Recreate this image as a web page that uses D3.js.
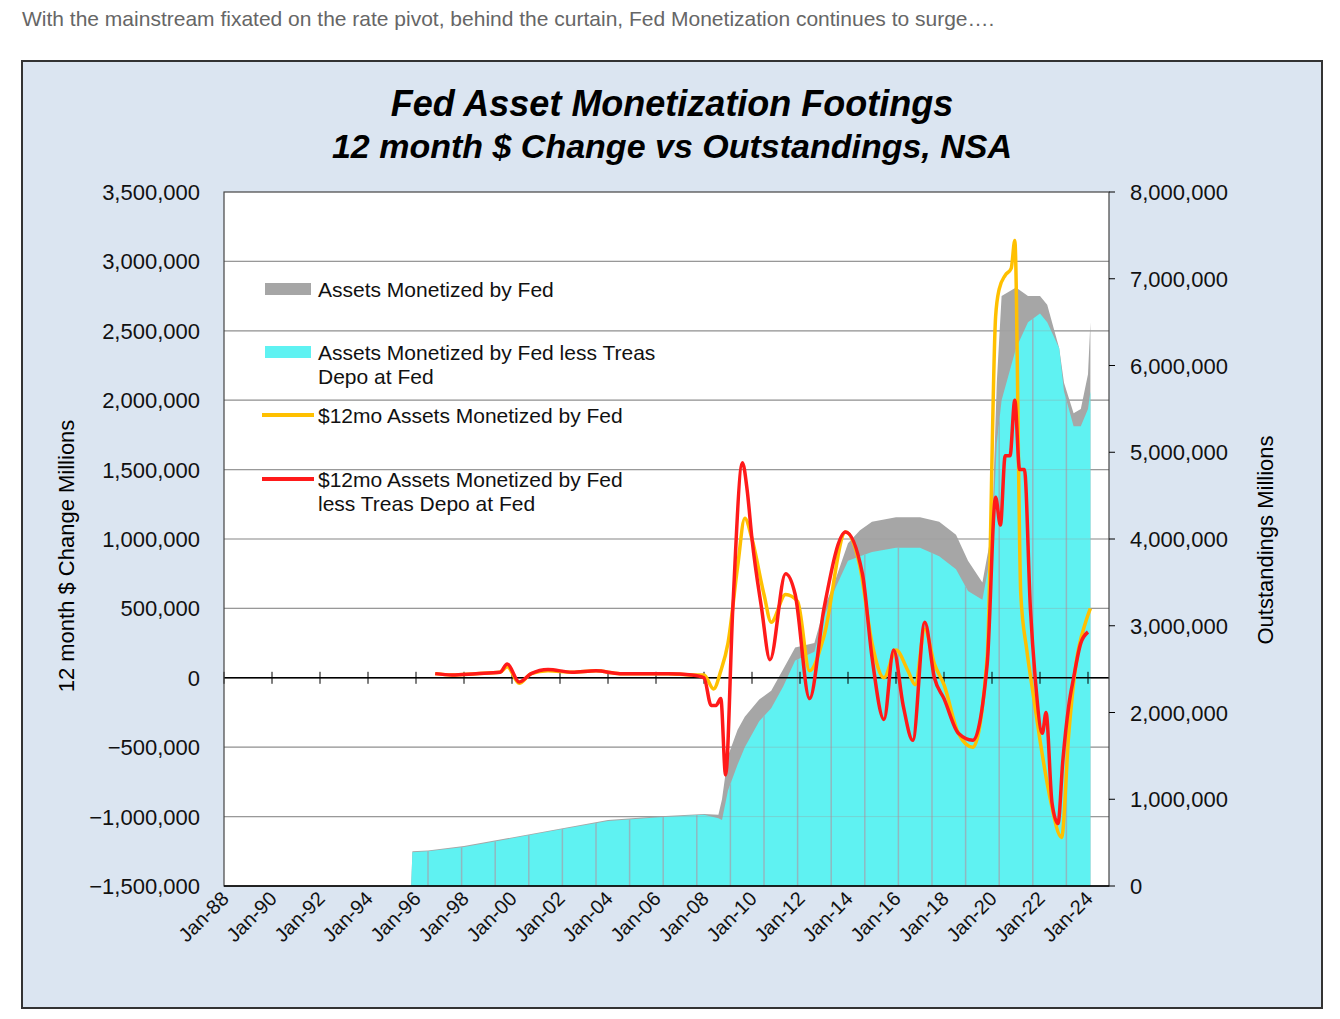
<!DOCTYPE html>
<html><head><meta charset="utf-8">
<script src="https://cdn.jsdelivr.net/npm/d3@7"></script>
<style>body{margin:0;background:#fff;font-family:Arial,"Liberation Sans",sans-serif}</style>
</head><body><svg id="c" width="1340" height="1019"></svg>
<script>
// Outstandings (millions, right axis)
const totalYears = [1995.8,1995.85,1996.5,1998,2000,2002,2004,2006,2008,2008.6,2008.75,2009.0,2009.4,2009.7,2010.3,2010.8,2011.3,2011.8,2012.6,2013,2013.5,2014,2014.5,2015,2016,2017,2017.8,2018.5,2019,2019.6,2020.0,2020.2,2020.4,2021,2021.5,2022,2022.3,2022.8,2023,2023.4,2023.7,2024,2024.1];
const totalVals  = [0,400000,410000,460000,560000,660000,760000,800000,830000,820000,1000000,1500000,1800000,1950000,2150000,2250000,2500000,2750000,2800000,3200000,3550000,3950000,4100000,4200000,4250000,4250000,4200000,4050000,3750000,3500000,4100000,5800000,6800000,6900000,6800000,6800000,6700000,6200000,5800000,5450000,5500000,5900000,6500000];
const lessYears  = [1995.8,1995.85,1996.5,1998,2000,2002,2004,2006,2008,2008.6,2008.75,2009.0,2009.4,2009.7,2010.3,2010.8,2011.3,2011.8,2012.6,2013,2013.5,2014,2014.5,2015,2016,2017,2017.8,2018.5,2019,2019.6,2020.0,2020.2,2020.4,2021,2021.5,2022,2022.3,2022.8,2023,2023.4,2023.7,2024,2024.1];
const lessVals   = [0,390000,400000,450000,550000,650000,750000,790000,820000,780000,760000,1100000,1400000,1600000,1900000,2050000,2300000,2600000,2700000,3100000,3450000,3750000,3800000,3850000,3900000,3900000,3800000,3650000,3400000,3300000,3900000,5100000,5600000,6200000,6500000,6600000,6500000,6200000,5700000,5300000,5300000,5500000,5700000];
// 12 month $ change (millions, left axis)
const yYears = [1996.8,1997.5,1998.5,1999.5,1999.8,2000.3,2000.8,2001.5,2002.5,2003.5,2004.5,2005.5,2006.5,2007.5,2008.0,2008.4,2008.7,2009.0,2009.4,2009.7,2010.0,2010.5,2010.8,2011.4,2011.9,2012.4,2013.0,2013.9,2014.5,2015.0,2015.5,2016.0,2016.5,2016.8,2017.2,2017.6,2018.0,2018.6,2019.2,2019.8,2020.15,2020.3,2020.55,2020.8,2020.95,2021.2,2021.45,2021.7,2022.0,2022.4,2022.9,2023.2,2023.5,2023.9,2024.1];
const yVals  = [30000,20000,30000,40000,80000,-40000,30000,50000,40000,50000,30000,30000,30000,20000,20000,-80000,50000,250000,800000,1150000,1000000,600000,400000,600000,550000,50000,300000,1050000,800000,250000,0,200000,50000,-50000,350000,100000,-50000,-400000,-500000,150000,2600000,2800000,2900000,2950000,3150000,600000,200000,-100000,-450000,-850000,-1150000,-400000,100000,400000,500000];
const rYears = [1996.8,1997.5,1998.5,1999.5,1999.8,2000.3,2000.8,2001.5,2002.5,2003.5,2004.5,2005.5,2006.5,2007.5,2008.0,2008.3,2008.5,2008.7,2008.9,2009.2,2009.6,2009.8,2010.0,2010.4,2010.75,2011.4,2011.8,2012.4,2013.0,2013.9,2014.6,2015.0,2015.5,2015.9,2016.3,2016.7,2017.2,2017.6,2018.0,2018.6,2019.2,2019.8,2020.15,2020.35,2020.55,2020.75,2020.95,2021.15,2021.35,2021.6,2021.8,2022.1,2022.25,2022.5,2022.75,2022.95,2023.2,2023.4,2023.7,2024.0];
const rVals  = [30000,20000,30000,40000,100000,-30000,30000,60000,40000,50000,30000,30000,30000,20000,0,-200000,-200000,-150000,-700000,500000,1550000,1350000,1000000,500000,130000,750000,600000,-150000,500000,1050000,750000,150000,-300000,200000,-200000,-450000,400000,0,-150000,-400000,-450000,100000,1300000,1100000,1600000,1600000,2000000,1500000,1500000,500000,0,-400000,-250000,-900000,-1050000,-600000,-200000,0,250000,330000];
const leftTicks = [-1500000,-1000000,-500000,0,500000,1000000,1500000,2000000,2500000,3000000,3500000];
const rightTicks = [0,1000000,2000000,3000000,4000000,5000000,6000000,7000000,8000000];
const xTickYears = d3.range(1988,2025,2);
const legendNames = ["Assets Monetized by Fed","Assets Monetized by Fed less Treas|Depo at Fed","$12mo Assets Monetized by Fed","$12mo Assets Monetized by Fed|less Treas Depo at Fed"];
const legendColors = ["#a6a6a6","#5ff2f2","#ffc000","#ff1a1a"];

const svg = d3.select("#c");
svg.append("text").attr("x",22).attr("y",26).attr("font-size",21).attr("fill","#666")
  .text("With the mainstream fixated on the rate pivot, behind the curtain, Fed Monetization continues to surge….");
svg.append("rect").attr("x",22).attr("y",61).attr("width",1300).attr("height",947).attr("fill","#dbe5f1").attr("stroke","#333").attr("stroke-width",2);
const L=224,R=1109,T=192,B=886;
svg.append("rect").attr("x",L).attr("y",T).attr("width",R-L).attr("height",B-T).attr("fill","#fff");
const x = d3.scaleLinear().domain([1988,1988+(R-L)/24]).range([L,R]);
const yL = d3.scaleLinear().domain([-1500000,3500000]).range([B,T]);
const yR = d3.scaleLinear().domain([0,8000000]).range([B,T]);
const fmt = d3.format(",");
svg.selectAll(".g").data(leftTicks.slice(1,-1)).join("line").attr("x1",L).attr("x2",R)
  .attr("y1",d=>yL(d)).attr("y2",d=>yL(d)).attr("stroke","#999").attr("stroke-width",1.2);
const area = (ys,vs)=>d3.area().x((d,i)=>x(ys[i])).y0(B).y1((d,i)=>yR(vs[i]))(vs);
svg.append("path").attr("d",area(totalYears,totalVals)).attr("fill","#a6a6a6");
svg.append("clipPath").attr("id","cl").append("path").attr("d",area(lessYears,lessVals));
svg.append("path").attr("d",area(lessYears,lessVals)).attr("fill","#5ff2f2");
svg.append("g").attr("clip-path","url(#cl)").selectAll("line").data(d3.range(1996.5,2024.5,1.4)).join("line")
  .attr("x1",d=>x(d)).attr("x2",d=>x(d)).attr("y1",T).attr("y2",B).attr("stroke","#8fb8c0").attr("stroke-width",1.5);
svg.selectAll(".g2").data(leftTicks.slice(1,-1)).join("line").attr("x1",L).attr("x2",R)
  .attr("y1",d=>yL(d)).attr("y2",d=>yL(d)).attr("stroke","#999").attr("stroke-opacity",0.35);
svg.append("line").attr("x1",L).attr("x2",R).attr("y1",yL(0)).attr("y2",yL(0)).attr("stroke","#000").attr("stroke-width",1.5);
svg.selectAll(".xt").data(xTickYears).join("line").attr("x1",d=>x(d)).attr("x2",d=>x(d))
  .attr("y1",yL(0)-6).attr("y2",yL(0)+6).attr("stroke","#000");
const line=(ys)=>d3.line().x((d,i)=>x(ys[i])).y(d=>yL(d)).curve(d3.curveMonotoneX);
svg.append("path").attr("d",line(yYears)(yVals)).attr("fill","none").attr("stroke","#ffc000").attr("stroke-width",3.5);
svg.append("path").attr("d",line(rYears)(rVals)).attr("fill","none").attr("stroke","#ff1a1a").attr("stroke-width",3.5);
svg.append("rect").attr("x",L).attr("y",T).attr("width",R-L).attr("height",B-T).attr("fill","none").attr("stroke","#444").attr("stroke-width",1.2);
svg.append("line").attr("x1",L).attr("x2",R).attr("y1",B).attr("y2",B).attr("stroke","#000").attr("stroke-width",1.5);
svg.selectAll(".lt").data(leftTicks).join("text").attr("x",200).attr("y",d=>yL(d)+8).attr("text-anchor","end")
  .attr("font-size",22).attr("fill","#111").text(d=>fmt(d));
svg.selectAll(".rt").data(rightTicks).join("text").attr("x",1130).attr("y",d=>yR(d)+8)
  .attr("font-size",22).attr("fill","#111").text(d=>fmt(d));
svg.selectAll(".rtk").data(rightTicks).join("line").attr("x1",R).attr("x2",R+6).attr("y1",d=>yR(d)).attr("y2",d=>yR(d)).attr("stroke","#000");
svg.selectAll(".xl").data(xTickYears).join("text")
  .attr("transform",d=>`translate(${x(d)+6},${B+14}) rotate(-45)`).attr("text-anchor","end")
  .attr("font-size",20).attr("fill","#111").text(d=>"Jan-"+String(d%100).padStart(2,"0"));
svg.append("text").attr("transform","translate(74,556) rotate(-90)").attr("text-anchor","middle").attr("font-size",22).text("12 month $ Change Millions");
svg.append("text").attr("transform","translate(1273,540) rotate(-90)").attr("text-anchor","middle").attr("font-size",22).text("Outstandings Millions");
svg.append("text").attr("x",672).attr("y",116).attr("text-anchor","middle").attr("font-size",36).attr("font-weight","bold").attr("font-style","italic").text("Fed Asset Monetization Footings");
svg.append("text").attr("x",672).attr("y",158).attr("text-anchor","middle").attr("font-size",34).attr("font-weight","bold").attr("font-style","italic").text("12 month $ Change vs Outstandings, NSA");
const ly=[289,352,415,479];
legendNames.forEach((n,i)=>{
  if(i<2) svg.append("rect").attr("x",265).attr("y",ly[i]-6).attr("width",46).attr("height",12).attr("fill",legendColors[i]);
  else svg.append("line").attr("x1",262).attr("x2",314).attr("y1",ly[i]).attr("y2",ly[i]).attr("stroke",legendColors[i]).attr("stroke-width",4);
  n.split("|").forEach((s,k)=>svg.append("text").attr("x",318).attr("y",ly[i]+8+k*24).attr("font-size",21).attr("fill","#111").text(s));
});
</script></body></html>
